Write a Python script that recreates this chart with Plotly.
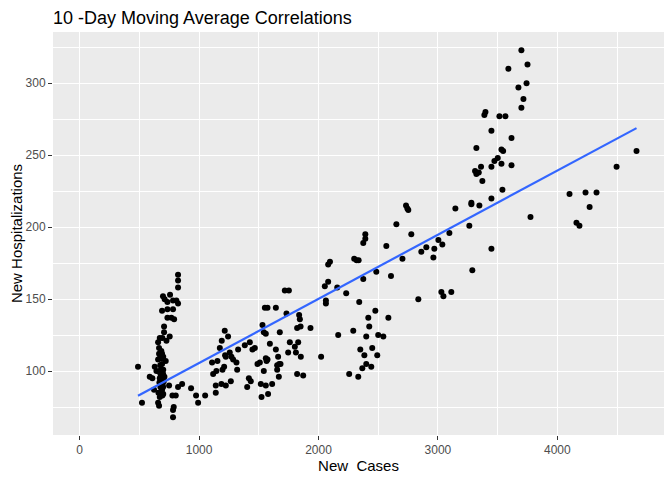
import numpy as np
import plotly.graph_objects as go

# 10-day moving averages: new cases vs new hospitalizations
new_cases = [
    824, 824, 824, 698, 712, 735, 757, 782, 810, 824, 690, 735, 782, 735, 768, 791,
    707, 707, 671, 693, 727, 754, 657, 665, 690, 657, 685, 721, 690, 489, 629, 643,
    699, 587, 609, 671, 699, 685, 676, 699, 749, 824, 858, 623, 685, 671, 693, 777,
    805, 657, 665, 522, 788, 782, 782, 933, 975, 992, 1051, 1109, 1154, 1145, 1118,
    1140, 1140, 680, 705, 660, 700, 675,
    672, 680, 688, 695, 668, 690, 700, 676, 684, 665, 700, 710,
    1190, 1174, 1215, 1243, 1218, 1224, 1257, 1271, 1285, 1313, 1319, 1187, 1224,
    1210, 1196, 1266, 1327, 1383, 1425, 1447, 1467, 1417, 1433, 1403, 1489, 1509,
    1542, 1523, 1517, 1559, 1578, 1612, 1559, 1573, 1565, 1593, 1643, 1662, 1671,
    1682, 1654, 1654, 1668, 1531, 1542, 1559, 1551, 1573, 1643, 1676, 1718, 1752,
    1732, 1760, 1746, 1802, 1811, 1830, 1852, 1838, 1844, 1821, 1850, 1933, 1821,
    1872, 2022, 2053, 2062, 2062, 2081,
    2081, 2096, 2157, 2232, 2165, 2257, 2333, 2291, 2341, 2299, 2319, 2336, 2375,
    2392, 2392, 2375, 2484, 2476, 2417, 2425, 2400, 2500, 2543, 2350, 2384, 2450,
    2492, 2400, 2367, 2442, 2585, 2568, 2607, 2652, 2703, 2733, 2744, 2752, 2777,
    2836, 2861, 2903, 2962, 2970, 3004, 3037, 3029, 3046, 3112, 3096, 3146,
    3699, 3750, 3590, 3742, 3674, 3716, 3699, 3389, 3398, 3515, 3565, 3448, 3616,
    3322, 3532, 3546, 3501, 3473, 3448, 3532, 3616, 3361, 3311, 3322, 3342, 3372,
    3540, 3448, 3280, 3280, 3347, 3775, 3263, 3448, 3288,
    4663, 4496, 4102, 4236, 4328, 4270, 4160, 4185,
]
new_hosp = [
    167, 163, 158, 152, 150, 148, 153, 149, 149, 147, 142, 143, 143, 137, 137, 136,
    131, 127, 123, 123, 121, 124, 120, 116, 112, 108, 109, 107, 105, 103, 103, 100,
    98, 96, 95, 95, 96, 93, 89, 89, 90, 89, 91, 87, 86, 82, 83, 83,
    83, 78, 76, 78, 75, 73, 68, 88, 83, 78, 83, 106, 107, 100, 98,
    90, 85, 101, 93, 85, 110, 104,
    99, 97, 94, 91, 92, 87, 84, 110, 114, 112, 101, 96,
    121, 116, 128, 124, 111, 110, 113, 110, 108, 106, 101, 91, 90,
    103, 101, 93, 115, 118, 120, 115, 116, 95, 93, 89, 105, 106,
    100, 82, 91, 90, 84, 91, 109, 108, 107, 119, 115, 110, 105,
    105, 101, 104, 96, 132, 127, 126, 144, 144, 144, 127, 156, 156,
    140, 120, 113, 117, 113, 120, 110, 139, 136, 130, 131, 130, 98,
    97, 110, 159, 149, 147, 162,
    174, 176, 158, 154, 125, 98, 96, 128, 148, 178, 177, 177, 189,
    192, 195, 164, 169, 142, 137, 131, 124, 125, 124, 115, 111, 116,
    111, 105, 102, 103, 137, 187, 166, 202, 178, 215, 213, 212, 195,
    150, 183, 186, 179, 185, 191, 188, 155, 152, 155, 196, 213,
    323, 313, 310, 300, 297, 289, 283, 278, 280, 277, 277, 267, 262,
    255, 254, 253, 248, 246, 242, 244, 243, 242, 239, 237, 238, 232,
    226, 220, 217, 216, 215, 207, 201, 185, 170,
    253, 242, 223, 224, 224, 214, 203, 201,
]

x_ticks = [0, 1000, 2000, 3000, 4000]
y_ticks = [100, 150, 200, 250, 300]

# linear fit like geom_smooth(method = "lm", se = FALSE)
slope, icept = np.polyfit(new_cases, new_hosp, 1)
fit_x = np.linspace(min(new_cases), max(new_cases), 80)
fit_y = slope * fit_x + icept

fig = go.Figure()
fig.add_trace(go.Scatter(
    x=new_cases, y=new_hosp, mode="markers",
    marker=dict(color="black", size=6), hoverinfo="x+y",
))
fig.add_trace(go.Scatter(
    x=fit_x, y=fit_y, mode="lines",
    line=dict(color="#3366FF", width=2.2), hoverinfo="skip",
))

axis_common = dict(
    showgrid=True, gridcolor="white", gridwidth=1.1,
    zeroline=False, showline=False, automargin=False,
    ticks="outside", ticklen=4, tickwidth=1, tickcolor="#333333",
    tickfont=dict(family="Liberation Sans, Arial", size=12, color="#4D4D4D"),
    title_font=dict(family="Liberation Sans, Arial", size=15, color="black"),
)

# page body adds an 8px offset, so the figure is 664x472
fig.update_layout(
    width=664, height=472,
    margin=dict(l=45, r=8, t=24, b=45),
    paper_bgcolor="white", plot_bgcolor="#EBEBEB",
    showlegend=False,
    title=dict(
        text="10 -Day Moving Average Correlations",
        x=45 / 664, xanchor="left", y=1 - 3 / 472, yanchor="top",
        font=dict(family="Liberation Sans, Arial", size=18, color="black"),
    ),
    xaxis=dict(
        axis_common, range=[-223, 4893], tickvals=x_ticks,
        title=dict(text="New  Cases", standoff=4),
        minor=dict(dtick=500, tick0=500, showgrid=True, gridcolor="white", gridwidth=0.55, ticks=""),
    ),
    yaxis=dict(
        axis_common, range=[55.6, 335.6], tickvals=y_ticks,
        title=dict(text="New Hospitalizations", standoff=4),
        minor=dict(dtick=25, tick0=75, showgrid=True, gridcolor="white", gridwidth=0.55, ticks=""),
    ),
)

fig.write_html("out.html")
